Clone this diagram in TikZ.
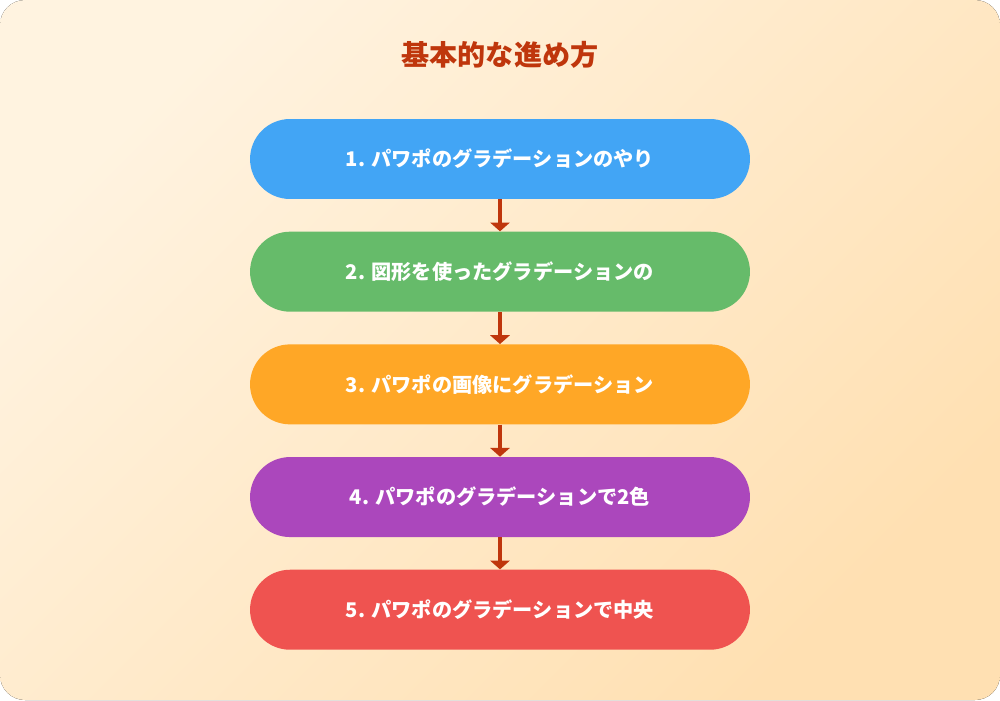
\documentclass[tikz,border=0pt]{standalone}
\usepackage{fontspec}
\setmainfont{Noto Sans CJK JP}
\usetikzlibrary{positioning,arrows.meta}
\definecolor{bgA}{HTML}{FFF3E0}
\definecolor{bgB}{HTML}{FFE0B2}
\definecolor{titlered}{HTML}{BF360C}
\definecolor{cBlue}{HTML}{42A5F5}
\definecolor{cGreen}{HTML}{66BB6A}
\definecolor{cOrange}{HTML}{FFA726}
\definecolor{cPurple}{HTML}{AB47BC}
\definecolor{cRed}{HTML}{EF5350}
\tikzset{%
  stepbox/.style = {rectangle, rounded corners=0.8cm, minimum width=10cm,
    minimum height=1.6cm, text=white, font=\bfseries\fontsize{11.5}{14}\selectfont},
  link/.style    = {draw=titlered, line width=2.2pt, -{Triangle[width=11pt,length=5pt]}}
}
\begin{document}
\begin{tikzpicture}[x=0.02cm, y=-0.02cm, node distance=0.64cm]
% background
\fill[rounded corners=0.5cm, left color=bgA, right color=bgB, shading angle=45] (0,0) rectangle (1000,700);
\node[text=titlered, font=\bfseries\fontsize{16}{19}\selectfont] (title) at (500,55) {基本的な進め方};
% steps
\node[stepbox, fill=cBlue] (s1) at (500,159) {1. パワポのグラデーションのやり};
\node[stepbox, fill=cGreen, below=of s1] (s2) {2. 図形を使ったグラデーションの};
\node[stepbox, fill=cOrange, below=of s2] (s3) {3. パワポの画像にグラデーション};
\node[stepbox, fill=cPurple, below=of s3] (s4) {4. パワポのグラデーションで2色};
\node[stepbox, fill=cRed, below=of s4] (s5) {5. パワポのグラデーションで中央};
% arrows
\foreach \a/\b in {s1/s2, s2/s3, s3/s4, s4/s5}
  \draw[link] (\a.south) -- (\b.north);
\end{tikzpicture}
\end{document}
